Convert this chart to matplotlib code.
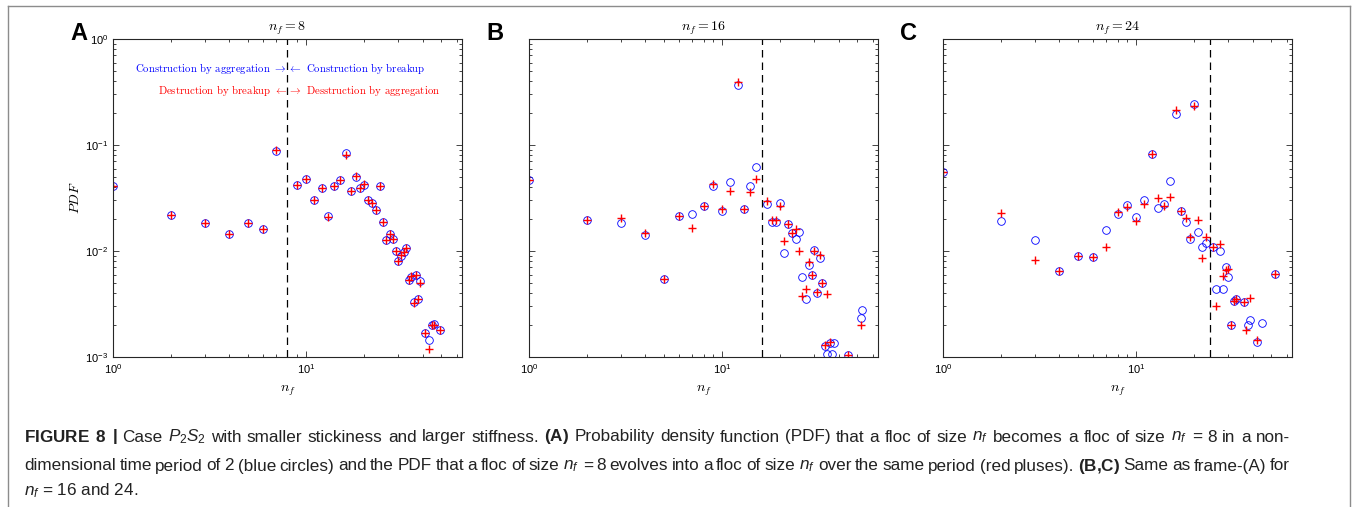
import numpy as np
import matplotlib.pyplot as plt
from matplotlib.lines import Line2D

plt.rcParams['font.family'] = ['Liberation Sans', 'DejaVu Sans']
plt.rcParams['mathtext.fontset'] = 'custom'
plt.rcParams['mathtext.rm'] = 'Liberation Sans'
plt.rcParams['mathtext.it'] = 'Liberation Sans:italic'
plt.rcParams['mathtext.bf'] = 'Liberation Sans:bold'

# panel A, n_f = 8
nA = [1, 2, 3, 4, 5, 6, 7, 9, 10, 11, 12, 13, 14, 15, 16, 17, 18, 19, 20, 21, 22, 23, 24, 25,
      26, 27, 28, 29, 30, 31, 32, 33, 34, 35, 36, 37, 38, 39, 41, 43, 45, 46, 49]
circA = [0.041, 0.022, 0.0185, 0.0145, 0.0185, 0.016, 0.088, 0.042, 0.048, 0.030, 0.039, 0.0214,
         0.041, 0.047, 0.0835, 0.037, 0.050, 0.039, 0.042, 0.030, 0.0286, 0.0244, 0.041, 0.0186,
         0.0127, 0.0144, 0.0129, 0.0099, 0.0080, 0.0090, 0.0097, 0.0107, 0.0053, 0.0057, 0.0033,
         0.0060, 0.0035, 0.0052, 0.0017, 0.00144, 0.0020, 0.00205, 0.0018]
plusA = [0.041, 0.022, 0.0185, 0.0145, 0.0185, 0.016, 0.089, 0.042, 0.048, 0.030, 0.039, 0.021,
         0.041, 0.047, 0.081, 0.037, 0.051, 0.039, 0.043, 0.030, 0.0286, 0.0244, 0.041, 0.0186,
         0.0127, 0.0145, 0.0129, 0.0099, 0.0080, 0.0091, 0.0098, 0.0107, 0.0053, 0.0058, 0.0032,
         0.0060, 0.0035, 0.0050, 0.0017, 0.00118, 0.0020, 0.0020, 0.0018]

# panel B, n_f = 16
nB_c = [1, 2, 3, 4, 5, 6, 7, 8, 9, 10, 11, 12, 13, 14, 15, 17, 18, 19, 20, 21, 22, 23, 24, 25,
        26, 27, 28, 29, 30, 31, 32, 33, 34, 35, 36, 37, 38, 45, 52, 53]
circB = [0.047, 0.0195, 0.0182, 0.0141, 0.0054, 0.0214, 0.0225, 0.0268, 0.041, 0.024, 0.0445,
         0.368, 0.0247, 0.041, 0.0625, 0.0277, 0.0186, 0.0186, 0.0286, 0.0095, 0.018, 0.0147,
         0.0129, 0.0152, 0.0057, 0.0035, 0.0073, 0.0059, 0.0103, 0.0040, 0.0086, 0.0050, 0.00126,
         0.00107, 0.00137, 0.00107, 0.00136, 0.00105, 0.00233, 0.0028]
nB_p = [1, 2, 3, 4, 5, 6, 7, 8, 9, 10, 11, 12, 13, 14, 15, 17, 18, 19, 20, 21, 22, 23, 24, 25,
        26, 27, 28, 29, 30, 31, 32, 33, 34, 35, 36, 45, 52]
plusB = [0.047, 0.0195, 0.0204, 0.0149, 0.0054, 0.0214, 0.0164, 0.0268, 0.0425, 0.0249, 0.037,
         0.39, 0.0247, 0.0364, 0.048, 0.0294, 0.0196, 0.0196, 0.0268, 0.0124, 0.018, 0.0149,
         0.0163, 0.0099, 0.00376, 0.0044, 0.0078, 0.0060, 0.0101, 0.0041, 0.0092, 0.0050, 0.0013,
         0.0039, 0.0014, 0.00105, 0.0020]

# panel C, n_f = 24
nC_c = [1, 2, 3, 4, 5, 6, 7, 8, 9, 10, 11, 12, 13, 14, 15, 16, 17, 18, 19, 20, 21, 22, 23, 25,
        26, 27, 28, 29, 30, 31, 32, 33, 36, 38, 39, 42, 45, 52]
circC = [0.056, 0.019, 0.0127, 0.0065, 0.009, 0.0087, 0.0159, 0.0223, 0.0272, 0.0208, 0.0303,
         0.0817, 0.0253, 0.0277, 0.0454, 0.195, 0.024, 0.0188, 0.0129, 0.242, 0.0152, 0.011,
         0.012, 0.0108, 0.0044, 0.0099, 0.0044, 0.007, 0.0057, 0.0020, 0.0034, 0.0035, 0.0033,
         0.0020, 0.00223, 0.00139, 0.0021, 0.0061]
nC_p = [1, 2, 3, 4, 5, 6, 7, 8, 9, 10, 11, 12, 13, 14, 15, 16, 17, 18, 19, 20, 21, 22, 23, 25,
        26, 27, 28, 29, 30, 31, 32, 33, 36, 37, 39, 42, 52]
plusC = [0.056, 0.023, 0.0083, 0.0065, 0.009, 0.0087, 0.0109, 0.0232, 0.026, 0.0193, 0.0277,
         0.0817, 0.0318, 0.0268, 0.0326, 0.214, 0.024, 0.0203, 0.0135, 0.235, 0.0196, 0.0085,
         0.0136, 0.011, 0.0030, 0.0116, 0.0058, 0.0066, 0.0067, 0.0020, 0.0034, 0.0035, 0.0033,
         0.0018, 0.0036, 0.00146, 0.0061]

panels = [
    ('A', 8, nA, circA, nA, plusA),
    ('B', 16, nB_c, circB, nB_p, plusB),
    ('C', 24, nC_c, circC, nC_p, plusC),
]
lefts = [113, 529, 943]

cap1 = (r'$\mathbf{FIGURE}$ $\mathbf{8}$ $\mathbf{|}$ Case $P_2S_2$ with smaller stickiness and '
        r'larger stiffness. $\mathbf{(A)}$ Probability density function (PDF) that a floc of '
        r'size $n_f$ becomes a floc of size $n_f$ = 8 in a non-')
cap2 = (r'dimensional time period of 2 (blue circles) and the PDF that a floc of size $n_f$ = 8 '
        r'evolves into a floc of size $n_f$ over the same period (red pluses). '
        r'$\mathbf{(B{,}C)}$ Same as frame-(A) for')
cap3 = r'$n_f$ = 16 and 24.'

fig = plt.figure(figsize=(13.56, 5.07), dpi=100)
W, H = 1356, 507

for i, (letter, nf, nc, pc, npl, pp) in enumerate(panels):
    ax = fig.add_axes([lefts[i] / W, (H - 357) / H, 349 / W, 318 / H])
    ax.plot(nc, pc, 'o', mfc='none', mec='blue', ms=5.5, mew=0.6)
    ax.plot(npl, pp, '+', color='red', ms=6, mew=1.0)
    ax.axvline(nf, color='black', ls=(0, (6, 4)), lw=0.9)
    ax.set_xscale('log')
    ax.set_yscale('log')
    ax.set_xlim(1, 64)
    ax.set_ylim(1e-3, 1)
    ax.tick_params(which='both', direction='in', top=True, right=True, labelsize=8,
                   width=0.6, color='#262626')
    ax.tick_params(which='major', length=4)
    ax.tick_params(which='minor', length=2)
    for s in ax.spines.values():
        s.set_linewidth(0.8)
        s.set_color('#262626')
    ax.set_title(r'$n_f = %d$' % nf, fontsize=10, math_fontfamily='cm', pad=6)
    ax.set_xlabel(r'$n_f$', fontsize=10, math_fontfamily='cm', labelpad=6)
    if i == 0:
        ax.set_ylabel(r'$PDF$', fontsize=10, math_fontfamily='cm', labelpad=2)
        kw = dict(va='center', fontsize=7.75, family='cmr10', math_fontfamily='cm')
        ax.text(7.95, 0.53, r'Construction by aggregation $\rightarrow$', color='blue',
                ha='right', **kw)
        ax.text(8.05, 0.53, r'$\leftarrow$ Construction by breakup', color='blue',
                ha='left', **kw)
        ax.text(7.95, 0.33, r'Destruction by breakup $\leftarrow$', color='red',
                ha='right', **kw)
        ax.text(8.05, 0.33, r'$\rightarrow$ Desstruction by aggregation', color='red',
                ha='left', **kw)
    else:
        ax.set_yticklabels([])
        ax.set_yticklabels([], minor=True)
    fig.text((lefts[i] - 43) / W, 1 - 34 / H, letter, fontsize=17, fontweight='bold',
             ha='left', va='center')

# frame around the figure
g = '#8c8c8c'
fig.add_artist(Line2D([8 / W, 1350 / W], [1 - 6 / H, 1 - 6 / H], color=g, lw=1))
fig.add_artist(Line2D([8 / W, 8 / W], [0, 1 - 6 / H], color=g, lw=1))
fig.add_artist(Line2D([1350 / W, 1350 / W], [0, 1 - 6 / H], color=g, lw=1))

# caption, first two lines justified between x0 and x1
renderer = fig.canvas.get_renderer()
x0, x1 = 24, 1290
fs = 12.3
for txt, y, just in [(cap1, 437, True), (cap2, 466, True), (cap3, 491, False)]:
    if not just:
        fig.text(x0 / W, 1 - y / H, txt, fontsize=fs, ha='left', va='center', color='#222222')
        continue
    words = txt.split(' ')
    objs = [fig.text(0, 1 - y / H, w, fontsize=fs, ha='left', va='center', color='#222222')
            for w in words]
    widths = [o.get_window_extent(renderer).width for o in objs]
    gap = (x1 - x0 - sum(widths)) / (len(words) - 1)
    x = x0
    for o, w in zip(objs, widths):
        o.set_x(x / W)
        x += w + gap

fig.savefig('out.png', dpi=100)
